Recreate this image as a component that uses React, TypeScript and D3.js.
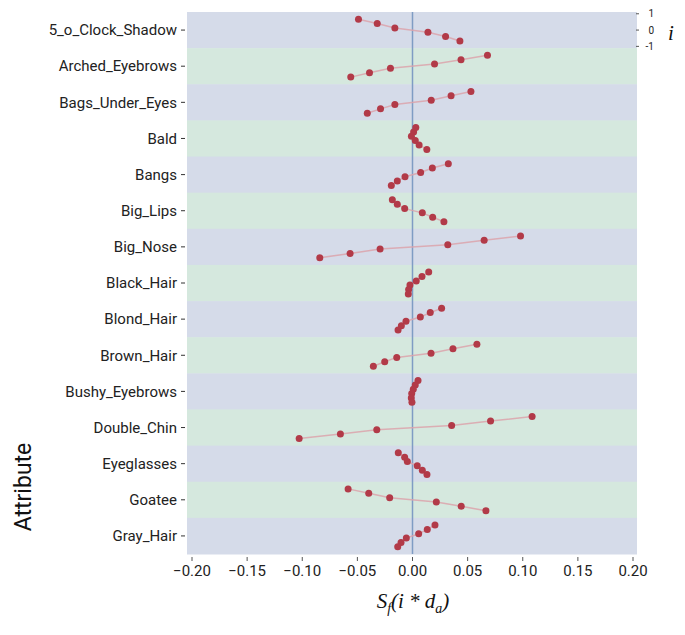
import React from 'react';
import * as d3 from 'd3';

// attribute names, top to bottom
const attributes = [
  '5_o_Clock_Shadow', 'Arched_Eyebrows', 'Bags_Under_Eyes', 'Bald', 'Bangs',
  'Big_Lips', 'Big_Nose', 'Black_Hair', 'Blond_Hair', 'Brown_Hair',
  'Bushy_Eyebrows', 'Double_Chin', 'Eyeglasses', 'Goatee', 'Gray_Hair',
];

// i levels for the six points in each row (top to bottom)
const iLevels = [0.67, 0.4, 0.13, -0.13, -0.4, -0.67];

// S_f(i * d_a) per attribute, same order as iLevels
const shadow5 = [-0.049, -0.032, -0.016, 0.014, 0.03, 0.043];
const archedEyebrows = [0.068, 0.044, 0.02, -0.02, -0.039, -0.056];
const bagsUnderEyes = [0.053, 0.035, 0.017, -0.016, -0.029, -0.041];
const bald = [0.003, 0.001, -0.001, 0.0025, 0.006, 0.013];
const bangs = [0.0325, 0.018, 0.0074, -0.0068, -0.0138, -0.0192];
const bigLips = [-0.0183, -0.0138, -0.0071, 0.0089, 0.0183, 0.0285];
const bigNose = [0.098, 0.065, 0.032, -0.0294, -0.0566, -0.0841];
const blackHair = [0.0147, 0.0086, 0.0034, -0.0023, -0.0035, -0.0038];
const blondHair = [0.0264, 0.0161, 0.0071, -0.0059, -0.0101, -0.0131];
const brownHair = [0.0584, 0.0367, 0.0168, -0.0143, -0.0252, -0.0355];
const bushyEyebrows = [0.005, 0.0025, 0.0007, -0.0007, -0.0011, -0.0005];
const doubleChin = [0.1085, 0.0708, 0.0355, -0.0324, -0.0654, -0.1028];
const eyeglasses = [-0.0129, -0.0071, -0.0047, 0.0043, 0.0089, 0.0131];
const goatee = [-0.0584, -0.0397, -0.0207, 0.0216, 0.0442, 0.0666];
const grayHair = [0.0204, 0.0134, 0.0056, -0.0056, -0.0104, -0.0134];

const series = [
  shadow5, archedEyebrows, bagsUnderEyes, bald, bangs, bigLips, bigNose,
  blackHair, blondHair, brownHair, bushyEyebrows, doubleChin, eyeglasses,
  goatee, grayHair,
];

const xTicks = [-0.2, -0.15, -0.1, -0.05, 0, 0.05, 0.1, 0.15, 0.2];
const iTicks = [1, 0, -1];

const App = () => {
  const width = 685;
  const height = 635;
  const plotLeft = 187;
  const plotRight = 637;
  const plotTop = 12;
  const plotBottom = 554;

  const x = d3.scaleLinear().domain([-0.2, 0.2]).range([192, 633]);
  const y = d3.scaleBand().domain(attributes).range([plotTop, plotBottom]).paddingInner(0);

  // y scale for i inside a row
  const iScale = (row: string) =>
    d3.scaleLinear()
      .domain([-1, 1])
      .range([y(row)! + y.bandwidth() / 2 + 16.3, y(row)! + y.bandwidth() / 2 - 16.3]);

  const line = d3.line<[number, number]>().x(d => d[0]).y(d => d[1]);
  const fmt = d3.format('.2f');
  const font = 'Roboto, "Noto Sans", sans-serif';

  return (
    <svg width={width} height={height} style={{ position: 'absolute', left: 0, top: 0, background: '#fff' }}>
      {/* row bands */}
      {attributes.map((a, k) => (
        <rect key={a} x={plotLeft} y={y(a)} width={plotRight - plotLeft} height={y.bandwidth() + 0.5}
          fill={k % 2 === 0 ? '#d5dbe9' : '#d5e8de'} />
      ))}

      {/* zero line */}
      <line x1={x(0)} x2={x(0)} y1={plotTop} y2={plotBottom} stroke="#7f9cc4" strokeWidth={1.5} />

      {/* lines and points */}
      {attributes.map((a, k) => {
        const iy = iScale(a);
        const pts: [number, number][] = series[k].map((v, j) => [x(v), iy(iLevels[j])]);
        return (
          <g key={a}>
            <path d={line(pts)!} fill="none" stroke="#dca3ab" strokeWidth={1.5} opacity={0.85} />
            {pts.map((p, j) => (
              <circle key={j} cx={p[0]} cy={p[1]} r={3.5} fill="#b23a48" />
            ))}
          </g>
        );
      })}

      {/* left axis */}
      {attributes.map(a => {
        const cy = y(a)! + y.bandwidth() / 2;
        return (
          <g key={a}>
            <line x1={181} x2={185} y1={cy} y2={cy} stroke="#333" strokeWidth={1} />
            <text x={177} y={cy} dy="0.35em" textAnchor="end" fontFamily={font} fontSize={15} fill="#222">{a}</text>
          </g>
        );
      })}

      {/* bottom axis */}
      {xTicks.map(t => (
        <g key={t}>
          <line x1={x(t)} x2={x(t)} y1={557} y2={561} stroke="#555" strokeWidth={1} />
          <text x={x(t)} y={576} textAnchor="middle" fontFamily={font} fontSize={15} fill="#222">
            {fmt(t).replace('-', '\u2212')}
          </text>
        </g>
      ))}

      {/* i axis for the first row */}
      {iTicks.map(t => {
        const ty = iScale(attributes[0])(t);
        return (
          <g key={t}>
            <line x1={636} x2={639} y1={ty} y2={ty} stroke="#555" strokeWidth={1} />
            <text x={654} y={ty} dy="0.35em" textAnchor="end" fontFamily={font} fontSize={10} fill="#222">{t}</text>
          </g>
        );
      })}
      <text x={668} y={40} fontFamily="'Liberation Serif', 'Times New Roman', serif" fontStyle="italic" fontSize={21} fill="#111">i</text>

      {/* axis titles */}
      <text transform="translate(31,487) rotate(-90)" textAnchor="middle" fontFamily={font} fontSize={23} fill="#111">Attribute</text>
      <text x={413} y={608} textAnchor="middle" fontFamily="'Liberation Serif', 'Times New Roman', serif" fontStyle="italic" fontSize={21} fill="#111">
        S<tspan fontSize={14} dy={5}>f</tspan><tspan dy={-5}>(i * d</tspan><tspan fontSize={14} dy={5}>a</tspan><tspan dy={-5}>)</tspan>
      </text>
    </svg>
  );
};

export default App;
